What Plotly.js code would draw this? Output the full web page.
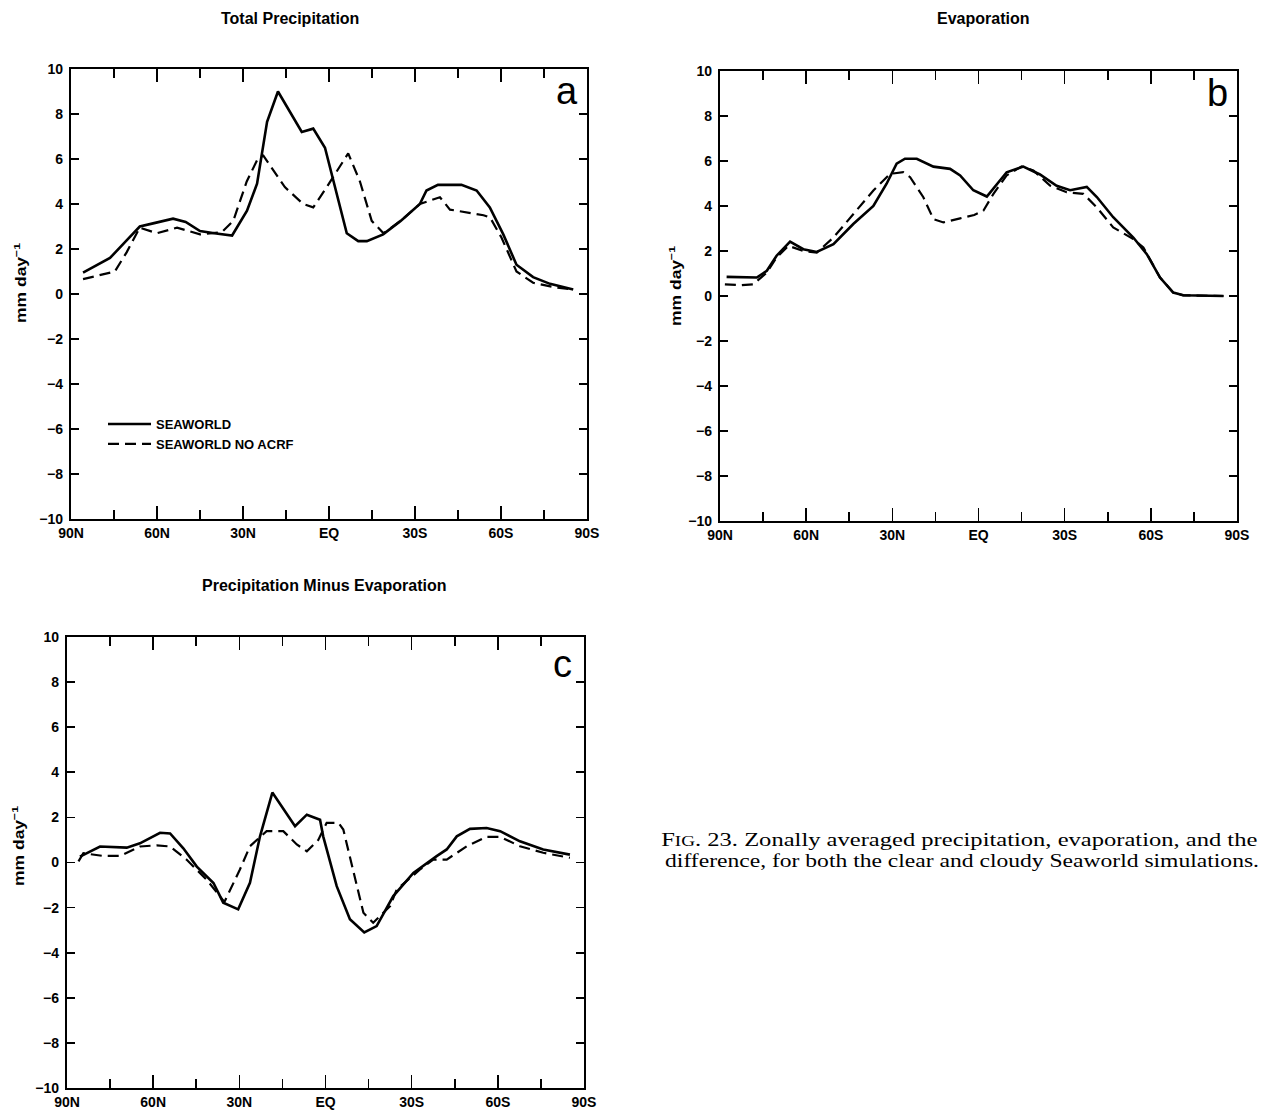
<!DOCTYPE html>
<html>
<head>
<meta charset="utf-8">
<script src="https://cdn.plot.ly/plotly-3.0.1.min.js"></script>
<style>
  html, body { margin: 0; padding: 0; background: #ffffff; }
  #fig { width: 1263px; height: 1112px; }
  /* the caption set is a wide face: stretch the serif lines horizontally */
  #fig g.annotation[data-index="9"] text {
    transform-box: fill-box; transform-origin: 0% 50%; transform: scaleX(1.365);
  }
  #fig g.annotation[data-index="10"] text {
    transform-box: fill-box; transform-origin: 0% 50%; transform: scaleX(1.31);
  }
  /* rotated unit labels are set in a wide face as well */
  #fig g.annotation[data-index="6"] text,
  #fig g.annotation[data-index="7"] text,
  #fig g.annotation[data-index="8"] text {
    transform-box: fill-box; transform-origin: 50% 50%; transform: scaleX(1.25);
  }
</style>
</head>
<body>
<div id="fig"></div>
<script>
// Latitude tick labels (north to south)
const latTicks = [90, 60, 30, 0, -30, -60, -90];
const latTickText = ['90N', '60N', '30N', 'EQ', '30S', '60S', '90S'];
const latMinorTicks = [75, 45, 15, -15, -45, -75];

// (a) Total precipitation, mm/day
const precipSeaLat = [85.8, 80.5, 76.4, 70.1, 66, 61, 54.4, 50, 45, 40, 33.8, 28.6, 25.1, 21.6, 17.8, 9.5, 5.5, 1.4, -6.2, -10.2, -13.2, -18.9, -25, -31.7, -34, -38, -46.2, -51.5, -56.1, -60.8, -65.4, -71.2, -77.1, -85.2];
const precipSea = [0.95, 1.3, 1.6, 2.45, 3.0, 3.15, 3.35, 3.2, 2.8, 2.7, 2.6, 3.7, 4.9, 7.65, 9.0, 7.2, 7.35, 6.5, 2.7, 2.35, 2.35, 2.65, 3.25, 4.0, 4.6, 4.85, 4.85, 4.6, 3.85, 2.65, 1.3, 0.75, 0.45, 0.2];
const precipNoAcrfLat = [85.8, 74.7, 70.6, 66, 60, 53, 45, 37.4, 33.4, 28.7, 24.7, 22.9, 15.4, 9.0, 5.5, 0.8, -6.7, -10.8, -14.9, -19, -25, -31.7, -38.7, -42.2, -53.9, -56.2, -60.2, -65.4, -71.2, -79.4, -85.2];
const precipNoAcrf = [0.66, 1.0, 1.85, 2.95, 2.7, 2.95, 2.65, 2.75, 3.25, 5.0, 6.05, 6.15, 4.75, 4.0, 3.85, 4.75, 6.25, 5.0, 3.25, 2.7, 3.25, 4.0, 4.3, 3.75, 3.5, 3.4, 2.5, 1.0, 0.5, 0.28, 0.2];

// (b) Evaporation, mm/day
const evapSeaLat = [87.7, 77.2, 73.7, 70.3, 65.6, 61, 56.3, 50.5, 43.6, 36.6, 32, 28.5, 25.6, 21.5, 15.7, 9.9, 6.4, 1.8, -2.9, -5.1, -9.8, -15.6, -21.4, -27.2, -31.9, -37.7, -41.2, -46.9, -53.9, -58.6, -63.2, -67.8, -71.3, -85.3];
const evapSea = [0.85, 0.82, 1.12, 1.79, 2.42, 2.08, 1.96, 2.3, 3.2, 4.0, 4.99, 5.88, 6.1, 6.1, 5.75, 5.65, 5.36, 4.7, 4.42, 4.75, 5.5, 5.75, 5.4, 4.9, 4.7, 4.85, 4.4, 3.5, 2.6, 1.86, 0.82, 0.15, 0.03, 0.0];
const evapNoAcrfLat = [88.3, 82.4, 78.4, 73.7, 70.3, 66.2, 61, 56.3, 50.5, 43.6, 36.6, 30.8, 26.2, 23.8, 19.2, 15.7, 12.2, 6.4, 1.5, -1.7, -5.2, -9.8, -15, -19.1, -24.9, -30.7, -36.5, -41.2, -46.9, -53.9, -57.4, -63.2, -67.8, -71.3, -85.3];
const evapNoAcrf = [0.52, 0.48, 0.52, 1.04, 1.71, 2.23, 2.0, 1.93, 2.6, 3.65, 4.69, 5.43, 5.5, 5.28, 4.39, 3.42, 3.27, 3.45, 3.6, 3.79, 4.54, 5.36, 5.76, 5.58, 4.91, 4.61, 4.54, 3.94, 3.05, 2.53, 2.16, 0.82, 0.15, 0.03, 0.0];

// (c) Precipitation minus evaporation, mm/day
const pmeSeaLat = [85.5, 78.5, 69.2, 64.6, 57.6, 54.1, 49.5, 44.8, 39, 35.6, 30.4, 26.3, 22.8, 18.5, 10.6, 6.5, 1.9, 0.8, -3.9, -8.5, -13.5, -17.8, -23.6, -30.6, -38.7, -42.2, -45.7, -50.3, -56.1, -60.8, -67.7, -75.8, -85.1];
const pmeSea = [0.26, 0.71, 0.66, 0.85, 1.32, 1.29, 0.63, -0.18, -0.91, -1.78, -2.08, -0.9, 1.16, 3.1, 1.61, 2.12, 1.9, 1.16, -1.05, -2.52, -3.1, -2.82, -1.49, -0.46, 0.28, 0.58, 1.16, 1.49, 1.53, 1.39, 0.94, 0.58, 0.35];
const pmeNoAcrfLat = [86, 84.3, 77.4, 71.5, 64.6, 58.8, 54.1, 48.3, 41.4, 35.2, 29.8, 26.3, 20.5, 14.7, 10, 6.5, 2.5, -0.4, -4.5, -6.2, -13.2, -16.6, -22.5, -24.8, -32.9, -37.5, -42.2, -49.2, -56.1, -60.8, -67.7, -75.8, -85.1];
const pmeNoAcrf = [0.05, 0.41, 0.29, 0.29, 0.71, 0.76, 0.71, 0.12, -0.76, -1.75, -0.31, 0.72, 1.39, 1.39, 0.8, 0.5, 1.0, 1.76, 1.76, 1.46, -2.23, -2.67, -1.93, -1.2, -0.31, 0.13, 0.13, 0.72, 1.14, 1.14, 0.72, 0.43, 0.21];

const seriesNames = ['SEAWORLD', 'SEAWORLD NO ACRF'];

const W = 1263, H = 1112;
const px = v => v / W;
const py = v => 1 - v / H;

const SANS = 'Liberation Sans, Arial, Helvetica, sans-serif';
const SERIF = 'Liberation Serif, Times New Roman, serif';

const solidLine = { color: '#000', width: 2.6, dash: 'solid' };
const dashLine = { color: '#000', width: 2.2, dash: '11px,6px' };

function trace(x, y, name, line, ax, showlegend) {
  return {
    type: 'scatter', mode: 'lines', x: x, y: y, name: name,
    line: line, xaxis: ax[0], yaxis: ax[1], showlegend: showlegend,
    hoverinfo: 'skip'
  };
}

const data = [
  trace(precipSeaLat, precipSea, seriesNames[0], solidLine, ['x', 'y'], true),
  trace(precipNoAcrfLat, precipNoAcrf, seriesNames[1], dashLine, ['x', 'y'], true),
  trace(evapSeaLat, evapSea, seriesNames[0], solidLine, ['x2', 'y2'], false),
  trace(evapNoAcrfLat, evapNoAcrf, seriesNames[1], dashLine, ['x2', 'y2'], false),
  trace(pmeSeaLat, pmeSea, seriesNames[0], solidLine, ['x3', 'y3'], false),
  trace(pmeNoAcrfLat, pmeNoAcrf, seriesNames[1], dashLine, ['x3', 'y3'], false)
];

const tickFont = { family: SANS, size: 14, color: '#000', weight: 'bold' };

function xAxis(l, r, anchor) {
  return {
    domain: [px(l), px(r)], anchor: anchor, range: [90, -90],
    tickmode: 'array', tickvals: latTicks, ticktext: latTickText,
    ticks: 'inside', ticklen: 13, tickwidth: 1.6, tickcolor: '#000',
    minor: { tickmode: 'array', tickvals: latMinorTicks, ticks: 'inside', ticklen: 9, tickwidth: 1.6, tickcolor: '#000', showgrid: false },
    showline: true, linewidth: 2.2, linecolor: '#000', mirror: 'ticks',
    showgrid: false, zeroline: false, fixedrange: true,
    tickfont: tickFont
  };
}

function yAxis(t, b, anchor) {
  return {
    domain: [py(b), py(t)], anchor: anchor, range: [-10, 10],
    tickmode: 'linear', tick0: -10, dtick: 2,
    ticks: 'inside', ticklen: 8, tickwidth: 1.6, tickcolor: '#000',
    ticklabelstandoff: 3,
    showline: true, linewidth: 2.2, linecolor: '#000', mirror: 'ticks',
    showgrid: false, zeroline: false, fixedrange: true,
    tickfont: tickFont
  };
}

function note(text, x, y, size, opts) {
  return Object.assign({
    text: text, xref: 'paper', yref: 'paper', x: px(x), y: py(y),
    xanchor: 'center', yanchor: 'middle', showarrow: false,
    font: { family: SANS, size: size, color: '#000' }
  }, opts || {});
}

const boldTitle = { family: SANS, size: 16, color: '#000', weight: 'bold' };
const axisTitleFont = { family: SANS, size: 14, color: '#000', weight: 'bold' };
const captionFont = { family: SERIF, size: 18, color: '#000' };

const annotations = [
  note('Total Precipitation', 290, 18, 16, { font: boldTitle }),
  note('Evaporation', 983, 18, 16, { font: boldTitle }),
  note('Precipitation Minus Evaporation', 324, 585, 16, { font: boldTitle }),
  note('a', 567, 91, 38),
  note('b', 1217, 93, 38),
  note('c', 562, 664, 38),
  note('mm day<sup>−1</sup>', 20, 282, 14, { textangle: -90, font: axisTitleFont }),
  note('mm day<sup>−1</sup>', 675, 286, 14, { textangle: -90, font: axisTitleFont }),
  note('mm day<sup>−1</sup>', 18, 846, 14, { textangle: -90, font: axisTitleFont }),
  note('F<span style="font-size:14px">IG</span>. 23. Zonally averaged precipitation, evaporation, and the', 659, 840, 18, { xanchor: 'left', font: captionFont }),
  note('difference, for both the clear and cloudy Seaworld simulations.', 663, 861, 18, { xanchor: 'left', font: captionFont })
];

const layout = {
  width: W, height: H,
  margin: { l: 0, r: 0, t: 0, b: 0 },
  paper_bgcolor: '#fff', plot_bgcolor: '#fff',
  xaxis: xAxis(71, 587, 'y'),
  yaxis: yAxis(69, 519, 'x'),
  xaxis2: xAxis(720, 1237, 'y2'),
  yaxis2: yAxis(71, 521, 'x2'),
  xaxis3: xAxis(67, 584, 'y3'),
  yaxis3: yAxis(637, 1088, 'x3'),
  showlegend: true,
  legend: {
    x: px(103), y: py(409), xanchor: 'left', yanchor: 'top',
    bgcolor: 'rgba(0,0,0,0)', borderwidth: 0,
    itemwidth: 43, tracegroupgap: 0,
    font: { family: SANS, size: 13, color: '#000', weight: 'bold' }
  },
  annotations: annotations
};

Plotly.newPlot('fig', data, layout, { displayModeBar: false, staticPlot: true });
</script>
</body>
</html>
